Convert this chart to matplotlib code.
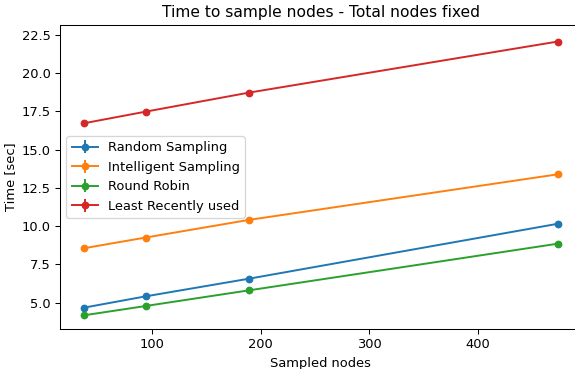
import matplotlib
matplotlib.use("Agg")
import matplotlib.pyplot as plt

# sampled nodes on x axis
sampled = [37, 94, 189, 474]

random_sampling = [4.67, 5.41, 6.56, 10.15]
intelligent_sampling = [8.55, 9.25, 10.4, 13.38]
round_robin = [4.17, 4.78, 5.80, 8.85]
least_recent = [16.71, 17.47, 18.71, 22.05]

labels = ["Random Sampling", "Intelligent Sampling", "Round Robin", "Least Recently used"]
series = [random_sampling, intelligent_sampling, round_robin, least_recent]

DPI = 93.3
fig = plt.figure(figsize=(575 / DPI, 369 / DPI), dpi=DPI)
ax = fig.add_axes([0.1043, 0.1076, 0.907, 0.8255])

for vals, lab in zip(series, labels):
    ax.errorbar(sampled, vals, yerr=[0.0] * len(vals), marker="o", markersize=5, label=lab)

ax.set_ylim(3.26, 23.15)
ax.set_title("Time to sample nodes - Total nodes fixed")
ax.set_xlabel("Sampled nodes")
ax.set_ylabel("Time [sec]")
ax.legend(loc="center left")

fig.savefig("out.png", dpi=DPI)
